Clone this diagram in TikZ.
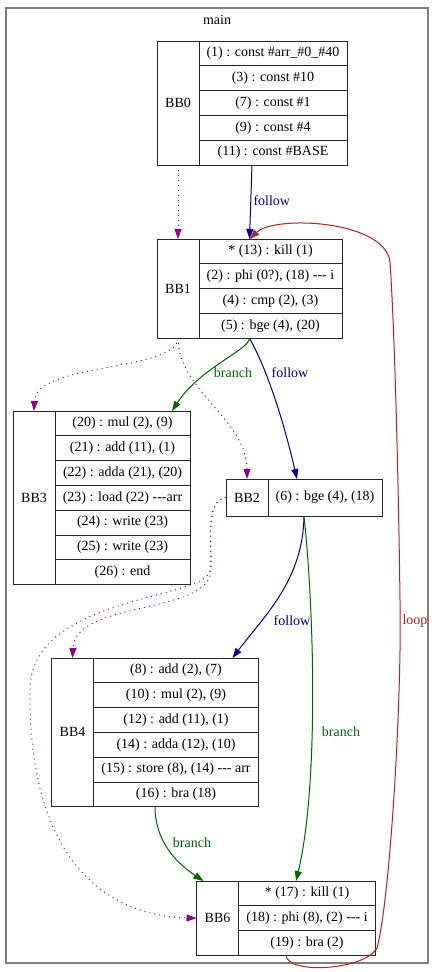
\documentclass[tikz,border=0pt]{standalone}
\usepackage{fontspec}
\setmainfont{Liberation Serif}[Ligatures=TeXOff]
\usetikzlibrary{positioning,fit,calc,arrows.meta}
\definecolor{followc}{RGB}{0,0,139}
\definecolor{branchc}{RGB}{0,100,0}
\definecolor{domc}{RGB}{139,0,139}
\definecolor{loopc}{RGB}{178,34,34}
\begin{document}
\begin{tikzpicture}[x=1pt,y=-1pt,
  every node/.style={font=\fontsize{14}{16}\selectfont},
  cell/.style={draw=black!85, line width=1pt, inner sep=0pt, outer sep=0pt},
  head/.style={cell, minimum width=42pt},
  row/.style={cell, minimum height=24.8pt},
  block/.style={inner sep=0pt, outer sep=0pt},
  cluster/.style={draw=gray, line width=2pt, inner sep=0pt},
  edge/.style={line width=1pt, -{Triangle[length=10pt,width=7pt]}},
  follow/.style={edge, followc},
  branch/.style={edge, branchc},
  dom/.style={edge, domc, dash pattern=on 1pt off 4pt},
  loopedge/.style={edge, loopc},
  elabel/.style={inner sep=0pt}]
\useasboundingbox (0,0) rectangle (435,972);
\node[cluster, minimum width=422pt, minimum height=955pt] (clmain) at (217,485.5) {};
\node (clname) at (217,20) {main};
% BB0
\begin{scope}[row/.append style={minimum width=148pt}]
\node[head, minimum height=124pt] (bb0) at (178,103) {BB0};
\node[row, anchor=north west] (bb0-1) at (bb0.north east) {(1) : const \#arr\_\#0\_\#40};
\node[row, below=0pt of bb0-1] (bb0-2) {(3) : const \#10};
\node[row, below=0pt of bb0-2] (bb0-3) {(7) : const \#1};
\node[row, below=0pt of bb0-3] (bb0-4) {(9) : const \#4};
\node[row, below=0pt of bb0-4] (bb0-5) {(11) : const \#BASE};
\node[block, fit=(bb0)(bb0-1)] (BB0) {};
\end{scope}
% BB1
\begin{scope}[row/.append style={minimum width=143pt}]
\node[head, minimum height=99.2pt] (bb1) at (178,288.6) {BB1};
\node[row, anchor=north west] (bb1-1) at (bb1.north east) {* (13) : kill (1)};
\node[row, below=0pt of bb1-1] (bb1-2) {(2) : phi (0?), (18) --- i};
\node[row, below=0pt of bb1-2] (bb1-3) {(4) : cmp (2), (3)};
\node[row, below=0pt of bb1-3] (bb1-4) {(5) : bge (4), (20)};
\node[block, fit=(bb1)(bb1-1)] (BB1) {};
\end{scope}
% BB3
\begin{scope}[row/.append style={minimum width=135pt}]
\node[head, minimum height=173.6pt] (bb3) at (34,497.8) {BB3};
\node[row, anchor=north west] (bb3-1) at (bb3.north east) {(20) : mul (2), (9)};
\node[row, below=0pt of bb3-1] (bb3-2) {(21) : add (11), (1)};
\node[row, below=0pt of bb3-2] (bb3-3) {(22) : adda (21), (20)};
\node[row, below=0pt of bb3-3] (bb3-4) {(23) : load (22) ---arr};
\node[row, below=0pt of bb3-4] (bb3-5) {(24) : write (23)};
\node[row, below=0pt of bb3-5] (bb3-6) {(25) : write (23)};
\node[row, below=0pt of bb3-6] (bb3-7) {(26) : end};
\node[block, fit=(bb3)(bb3-1)] (BB3) {};
\end{scope}
% BB2
\begin{scope}[row/.append style={minimum width=114pt, minimum height=37pt}]
\node[head, minimum height=37pt] (bb2) at (247,497.5) {BB2};
\node[row, anchor=north west] (bb2-1) at (bb2.north east) {(6) : bge (4), (18)};
\node[block, fit=(bb2)(bb2-1)] (BB2) {};
\end{scope}
% BB4
\begin{scope}[row/.append style={minimum width=165pt}]
\node[head, minimum height=148.8pt] (bb4) at (72.5,732.4) {BB4};
\node[row, anchor=north west] (bb4-1) at (bb4.north east) {(8) : add (2), (7)};
\node[row, below=0pt of bb4-1] (bb4-2) {(10) : mul (2), (9)};
\node[row, below=0pt of bb4-2] (bb4-3) {(12) : add (11), (1)};
\node[row, below=0pt of bb4-3] (bb4-4) {(14) : adda (12), (10)};
\node[row, below=0pt of bb4-4] (bb4-5) {(15) : store (8), (14) --- arr};
\node[row, below=0pt of bb4-5] (bb4-6) {(16) : bra (18)};
\node[block, fit=(bb4)(bb4-1)] (BB4) {};
\end{scope}
% BB6
\begin{scope}[row/.append style={minimum width=137pt}]
\node[head, minimum height=74.4pt] (bb6) at (217.5,918.2) {BB6};
\node[row, anchor=north west] (bb6-1) at (bb6.north east) {* (17) : kill (1)};
\node[row, below=0pt of bb6-1] (bb6-2) {(18) : phi (8), (2) --- i};
\node[row, below=0pt of bb6-2] (bb6-3) {(19) : bra (2)};
\node[block, fit=(bb6)(bb6-1)] (BB6) {};
\end{scope}
% edges
\draw[follow] (BB0.south) -- (BB1.north) node[elabel, anchor=west] (lf1) at (253,201) {follow};
\draw[dom] (bb0.south) -- (bb1.north);
\draw[branch] (BB1.south) .. controls (249,350) and (200,368) .. ($(BB3.north east)+(-18,0)$)
  node[elabel] (lb1) at (233,373) {branch};
\draw[follow] (BB1.south) .. controls (255,348) and (275,385) .. ($(BB2.north)+(-7,0)$)
  node[elabel] (lf2) at (290,373) {follow};
\draw[dom] (bb1.south) .. controls (176,372) and (36,362) .. (bb3.north);
\draw[dom] (bb1.south) .. controls (178,390) and (247,420) .. (bb2.north);
\draw[follow] (BB2.south) .. controls (303,580) and (265,615) .. ($(BB4.north east)+(-26,0)$)
  node[elabel] (lf3) at (292,621) {follow};
\draw[branch] (BB2.south) .. controls (315,620) and (318,790) .. ($(bb6-1.north)+(-11,0)$)
  node[elabel] (lb2) at (341,732) {branch};
\draw[dom] (bb2.west) .. controls (205,500) and (212,540) .. (211,570)
  .. controls (210,615) and (75,600) .. (bb4.north);
\draw[dom] (bb2.west) .. controls (205,500) and (212,540) .. (210,570)
  .. controls (208,600) and (30,595) .. (30,690)
  .. controls (28,840) and (90,915) .. (bb6.west);
\draw[branch] (BB4.south) .. controls (155,840) and (175,862) .. ($(bb6.north west)+(7,0)$)
  node[elabel] (lb3) at (192,843) {branch};
\draw[loopedge] (BB6.south) .. controls (288,975) and (365,970) .. (377,948)
  .. controls (390,900) and (402,700) .. (400,600)
  .. controls (398,450) and (394,320) .. (390,262)
  .. controls (385,220) and (275,215) .. (BB1.north)
  node[elabel] (ll1) at (415,621) {loop};
\end{tikzpicture}
\end{document}
